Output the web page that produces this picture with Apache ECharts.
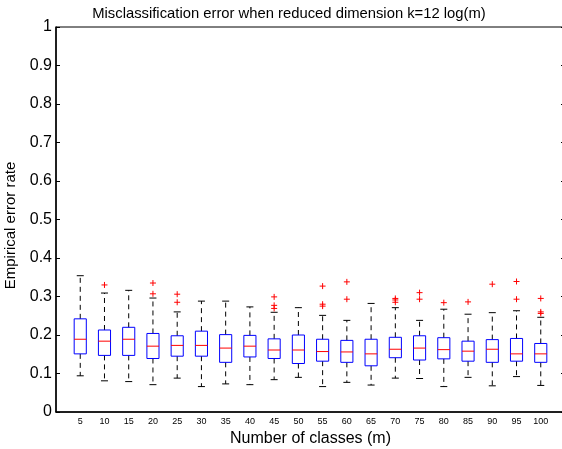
<!DOCTYPE html>
<html><head><meta charset="utf-8">
<script src="https://cdn.jsdelivr.net/npm/echarts@6/dist/echarts.min.js"></script>
<style>html,body{margin:0;padding:0;background:#fff}#c{width:562px;height:449px}</style>
</head><body><div id="c"></div>
<script>
var categories = ['5','10','15','20','25','30','35','40','45','50','55','60','65','70','75','80','85','90','95','100'];
var whiskerLow  = [0.094,0.081,0.079,0.071,0.088,0.066,0.073,0.071,0.084,0.090,0.066,0.077,0.070,0.088,0.087,0.066,0.090,0.068,0.092,0.069];
var q1          = [0.151,0.147,0.147,0.139,0.145,0.145,0.129,0.143,0.139,0.126,0.132,0.129,0.120,0.141,0.135,0.138,0.132,0.129,0.132,0.129];
var median      = [0.189,0.184,0.189,0.171,0.173,0.173,0.166,0.171,0.161,0.161,0.157,0.156,0.151,0.163,0.166,0.162,0.158,0.163,0.151,0.151];
var q3          = [0.242,0.213,0.220,0.204,0.198,0.210,0.201,0.199,0.190,0.200,0.189,0.186,0.189,0.194,0.198,0.193,0.184,0.188,0.191,0.178];
var whiskerHigh = [0.354,0.309,0.316,0.296,0.260,0.288,0.288,0.273,0.259,0.271,0.251,0.238,0.282,0.271,0.238,0.267,0.254,0.258,0.263,0.246];
var outliers = [[],[0.330],[],[0.335,0.307],[0.306,0.285],[],[],[],[0.299,0.277,0.269],[],
  [0.327,0.280,0.275],[0.338,0.293],[],[0.295,0.291,0.285],[0.310,0.293],[0.284],[0.286],[0.332],[0.339,0.293],[0.295,0.260,0.256]];
var yTicks = [0,0.1,0.2,0.3,0.4,0.5,0.6,0.7,0.8,0.9,1];

var boxData = categories.map(function(c,i){return [i+1, whiskerLow[i], q1[i], median[i], q3[i], whiskerHigh[i]];});
var outData = [];
outliers.forEach(function(arr,i){arr.forEach(function(v){outData.push([i+1,v]);});});

var font = 'Liberation Sans, Arial, sans-serif';
var chart = echarts.init(document.getElementById('c'), null, {renderer:'canvas'});
chart.setOption({
  animation:false,
  backgroundColor:'#fff',
  title:{text:'Misclassification error when reduced dimension k=12 log(m)', left:284, top:1, textAlign:'center',
    textStyle:{fontFamily:font, fontSize:14.8, fontWeight:'normal', color:'#000'}},
  grid:{left:56, top:27, width:509, height:385, show:true, borderColor:'#000', borderWidth:1,
    containLabel:false, outerBoundsMode:'none'},
  xAxis:[{type:'value', min:0, max:21, interval:1, position:'bottom',
    name:'Number of classes (m)', nameLocation:'middle', nameGap:16,
    nameTextStyle:{fontFamily:font, fontSize:16, color:'#000'},
    axisLine:{show:true, lineStyle:{color:'#000', width:1.5}}, axisTick:{show:false}, splitLine:{show:false},
    axisLabel:{fontFamily:font, fontSize:9, color:'#000', margin:5,
      formatter:function(v){var i=Math.round(v)-1; return (i>=0&&i<categories.length)?categories[i]:'';}}}],
  yAxis:[{type:'value', min:0, max:1, interval:0.1, position:'left',
    name:'Empirical error rate', nameLocation:'middle', nameGap:34,
    nameTextStyle:{fontFamily:font, fontSize:15, color:'#000', padding:[0,12,0,0]},
    axisLine:{show:true, lineStyle:{color:'#000', width:1.5}},
    axisTick:{show:true, inside:true, length:4, lineStyle:{color:'#000'}},
    splitLine:{show:false},
    axisLabel:{fontFamily:font, fontSize:16, color:'#000', margin:4,
      formatter:function(v){return String(Math.round(v*10)/10);}}},
   {type:'value', min:0, max:1, interval:0.1, position:'right',
    axisLine:{show:false}, axisTick:{show:true, inside:true, length:4, lineStyle:{color:'#000'}},
    axisLabel:{show:false}, splitLine:{show:false}}],
  series:[{
    type:'custom', xAxisIndex:0, yAxisIndex:0, data:boxData, clip:false,
    renderItem:function(params, api){
      var x=api.value(0);
      var pLo=api.coord([x,api.value(1)]), pQ1=api.coord([x,api.value(2)]), pMed=api.coord([x,api.value(3)]),
          pQ3=api.coord([x,api.value(4)]), pHi=api.coord([x,api.value(5)]);
      var bw=api.size([0.5,0])[0], cw=7, cx=pMed[0];
      var dash={stroke:'#000', lineWidth:1, lineDash:[5,4]};
      return {type:'group', children:[
        {type:'line', shape:{x1:cx,y1:pQ3[1],x2:cx,y2:pHi[1]}, style:dash},
        {type:'line', shape:{x1:cx,y1:pQ1[1],x2:cx,y2:pLo[1]}, style:dash},
        {type:'line', shape:{x1:cx-cw/2,y1:pHi[1],x2:cx+cw/2,y2:pHi[1]}, style:{stroke:'#000',lineWidth:1}},
        {type:'line', shape:{x1:cx-cw/2,y1:pLo[1],x2:cx+cw/2,y2:pLo[1]}, style:{stroke:'#000',lineWidth:1}},
        {type:'rect', shape:{x:cx-bw/2,y:pQ3[1],width:bw,height:pQ1[1]-pQ3[1]}, style:{fill:null, stroke:'#0000ff', lineWidth:1}},
        {type:'line', shape:{x1:cx-bw/2,y1:pMed[1],x2:cx+bw/2,y2:pMed[1]}, style:{stroke:'#ff0000',lineWidth:1}}
      ]};
    }
  },{
    type:'custom', xAxisIndex:0, yAxisIndex:0, data:outData,
    renderItem:function(params, api){
      var p=api.coord([api.value(0),api.value(1)]), s=3;
      return {type:'group', children:[
        {type:'line', shape:{x1:p[0]-s,y1:p[1],x2:p[0]+s,y2:p[1]}, style:{stroke:'#ff0000',lineWidth:1}},
        {type:'line', shape:{x1:p[0],y1:p[1]-s,x2:p[0],y2:p[1]+s}, style:{stroke:'#ff0000',lineWidth:1}}
      ]};
    }
  }]
});
</script></body></html>
